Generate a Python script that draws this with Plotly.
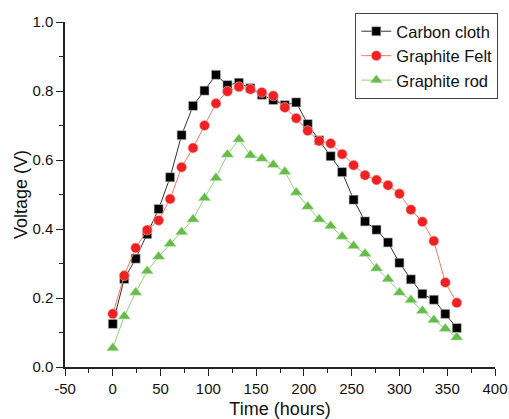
import plotly.graph_objects as go

time_h = [0, 12, 24, 36, 48, 60, 72, 84, 96, 108, 120, 132, 144, 156, 168, 180,
          192, 204, 216, 228, 240, 252, 264, 276, 288, 300, 312, 324, 336, 348, 360]

carbon_cloth = [0.125, 0.255, 0.314, 0.385, 0.458, 0.550, 0.672, 0.757, 0.801, 0.847,
                0.817, 0.824, 0.808, 0.789, 0.774, 0.759, 0.767, 0.704, 0.657, 0.611,
                0.565, 0.485, 0.422, 0.398, 0.361, 0.302, 0.254, 0.212, 0.195, 0.154, 0.113]

graphite_felt = [0.154, 0.265, 0.345, 0.397, 0.425, 0.487, 0.579, 0.635, 0.700, 0.764,
                 0.799, 0.812, 0.805, 0.796, 0.786, 0.752, 0.721, 0.685, 0.655, 0.648,
                 0.617, 0.585, 0.556, 0.542, 0.527, 0.502, 0.456, 0.421, 0.365, 0.245, 0.186]

graphite_rod = [0.055, 0.147, 0.216, 0.278, 0.320, 0.357, 0.391, 0.428, 0.490, 0.548,
                0.616, 0.660, 0.614, 0.604, 0.586, 0.566, 0.506, 0.465, 0.428, 0.409,
                0.378, 0.351, 0.328, 0.286, 0.255, 0.216, 0.194, 0.163, 0.136, 0.111, 0.086]

x_ticks = [-50, 0, 50, 100, 150, 200, 250, 300, 350, 400]
x_tick_labels = ["-50", "0", "50", "100", "150", "200", "250", "300", "350", "400"]
y_ticks = [0.0, 0.2, 0.4, 0.6, 0.8, 1.0]
y_tick_labels = ["0.0", "0.2", "0.4", "0.6", "0.8", "1.0"]

fig = go.Figure()
fig.add_trace(go.Scatter(
    x=time_h, y=carbon_cloth, name="Carbon cloth", mode="lines+markers",
    line=dict(color="#333333", width=1),
    marker=dict(symbol="square", size=9, color="#000000", line=dict(color="#bbbbbb", width=0.6))))
fig.add_trace(go.Scatter(
    x=time_h, y=graphite_felt, name="Graphite Felt", mode="lines+markers",
    line=dict(color="#f47a60", width=1),
    marker=dict(symbol="circle", size=10, color="#ee2222", line=dict(color="#ffbbbb", width=0.6))))
fig.add_trace(go.Scatter(
    x=time_h, y=graphite_rod, name="Graphite rod", mode="lines+markers",
    line=dict(color="#8fd07a", width=1),
    marker=dict(symbol="triangle-up", size=11, color="#66bb4a", line=dict(color="#c8eec0", width=0.6))))

fig.update_layout(
    width=509, height=419,
    margin=dict(l=65, r=14, t=22, b=52, autoexpand=False),
    paper_bgcolor="white", plot_bgcolor="white",
    font=dict(family="Liberation Sans, Arial, sans-serif", size=15, color="#111111"),
    showlegend=True,
    legend=dict(xref="container", yref="container", x=0.979, y=0.969,
                xanchor="right", yanchor="top",
                bordercolor="#444444", borderwidth=1, bgcolor="white",
                font=dict(size=16.5), tracegroupgap=0),
)
fig.update_xaxes(
    range=[-50, 400], tickvals=x_ticks, ticktext=x_tick_labels,
    showgrid=False, zeroline=False, automargin=False,
    showline=True, linecolor="#222222", linewidth=1.5,
    ticks="outside", ticklen=7, tickwidth=1.2, tickcolor="#222222",
    minor=dict(ticks="outside", ticklen=4, tickwidth=1, tickcolor="#222222",
               tickvals=[-25, 25, 75, 125, 175, 225, 275, 325, 375], showgrid=False),
    title=dict(text="Time (hours)", font=dict(size=18), standoff=12),
    tickfont=dict(size=15),
)
fig.update_yaxes(
    range=[0, 1.0], tickvals=y_ticks, ticktext=y_tick_labels,
    showgrid=False, zeroline=False, automargin=False,
    showline=True, linecolor="#222222", linewidth=1.5,
    ticks="outside", ticklen=7, tickwidth=1.2, tickcolor="#222222",
    minor=dict(ticks="outside", ticklen=4, tickwidth=1, tickcolor="#222222",
               tickvals=[0.1, 0.3, 0.5, 0.7, 0.9], showgrid=False),
    title=dict(text="Voltage (V)", font=dict(size=18), standoff=0),
    tickfont=dict(size=15),
)

fig.write_html("out.html", config={"displayModeBar": False},
               post_script="document.body.style.margin='0';")
